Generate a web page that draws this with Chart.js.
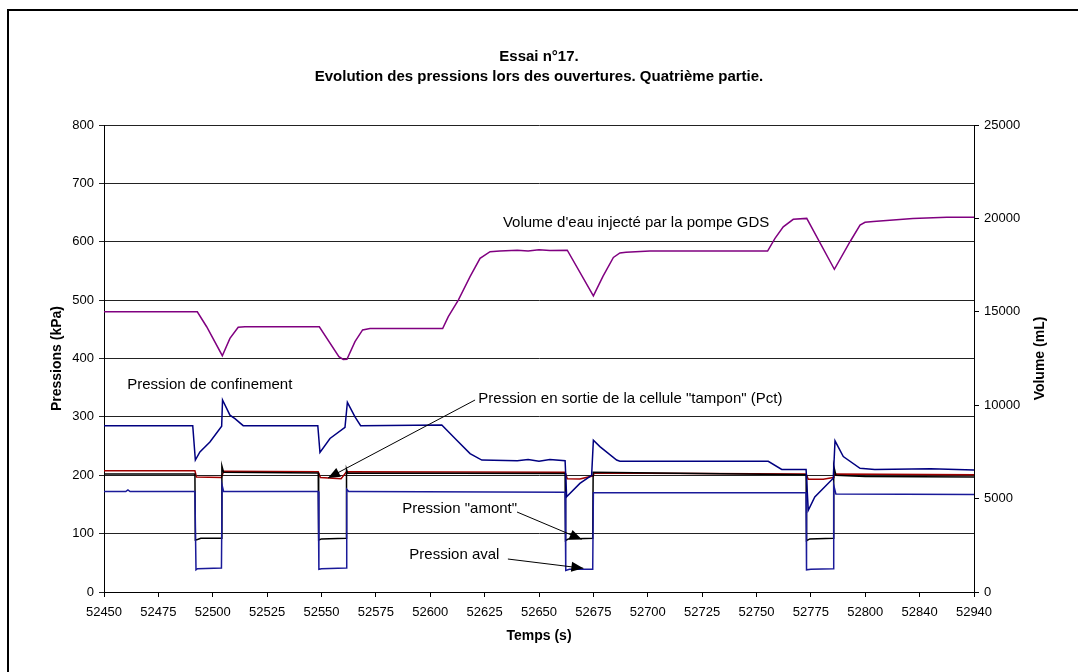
<!DOCTYPE html>
<html>
<head>
<meta charset="utf-8">
<title>Essai n°17</title>
<script src="https://cdn.jsdelivr.net/npm/chart.js@4.4.1/dist/chart.umd.min.js"></script>
<style>
  body { margin: 0; background: #fff; }
</style>
</head>
<body>
<canvas id="essaiChart" width="1078" height="672"></canvas>
<script>
// axis labels (Excel category axis, last two steps are not 25 s)
const xTickLabels = ['52450', '52475', '52500', '52525', '52550', '52575', '52600', '52625', '52650',
  '52675', '52700', '52725', '52750', '52775', '52800', '52840', '52940'];

// Volume d'eau injecte (mL), right axis
const volTime = [52450, 52492.9, 52497.2, 52504.4, 52507.9, 52511.7, 52514.8, 52530, 52549.0, 52558.0,
  52560.0, 52561.7, 52565.4, 52568.9, 52572.3, 52605.7, 52608.3, 52612.9, 52618.3, 52622.9, 52627.5,
  52632, 52640, 52645, 52650, 52655, 52663.0, 52675.0, 52679.4, 52684.2, 52687.2, 52690, 52701,
  52755.1, 52758.5, 52762.3, 52766.9, 52773.1, 52785.8, 52793, 52797.6, 52799.9, 52806, 52835, 52890, 52940];
const volValues = [15000, 15000, 14200, 12650, 13580, 14170, 14200, 14200, 14200, 12600,
  12450, 12460, 13400, 14030, 14100, 14100, 14740, 15630, 16880, 17860, 18220,
  18250, 18300, 18250, 18320, 18280, 18300, 15850, 16900, 17910, 18150, 18185, 18250,
  18250, 18930, 19550, 19950, 20000, 17275, 18750, 19640, 19790, 19830, 20000, 20060, 20060];

// Pression de confinement (kPa)
const confTime = [52450, 52490.8, 52492.0, 52494.1, 52498.7, 52504.1, 52504.5, 52507.9, 52510.2, 52514,
  52548.3, 52549.3, 52553.9, 52560.8, 52561.9, 52565.4, 52568, 52605.3, 52612.2, 52618.3, 52623.7,
  52640, 52645, 52650, 52655, 52662, 52662.7, 52668.8, 52674.2, 52675, 52678, 52685.7, 52687.2,
  52755.4, 52761.6, 52772.8, 52773.8, 52776.8, 52785.3, 52786.1, 52789.9, 52797.6, 52807, 52860, 52940];
const confValues = [285, 285, 226, 240, 257, 284, 329, 303, 297, 285,
  285, 239, 263, 282, 325, 300, 285, 286, 260, 237, 226,
  225, 227, 224, 227, 225, 163, 186, 200, 260, 249, 226, 224,
  224, 210, 210, 140, 163, 195, 259, 232, 212, 210, 211, 209];

// Pression aval (kPa)
const avalTime = [52450, 52460, 52461, 52462, 52491.8, 52492.3, 52493, 52504, 52504.3, 52505, 52506,
  52548.5, 52548.8, 52550, 52561.3, 52561.6, 52562.5, 52563.5, 52662, 52662.3, 52664, 52674.7, 52675,
  52772.8, 52773, 52775, 52785.3, 52785.5, 52786.5, 52940];
const avalValues = [172, 172, 175, 172, 172, 38, 40, 41, 183, 172, 172,
  172, 39, 40, 41, 176, 172, 172, 171, 37, 39, 39, 170,
  170, 38, 39, 40, 183, 168, 167];

// Pression "amont" (kPa)
const amontTime = [52450, 52491.8, 52492.0, 52493, 52494.5, 52504.0, 52504.2, 52505, 52548.5, 52548.7,
  52550, 52561.3, 52561.5, 52562, 52662, 52662.2, 52663.5, 52674.7, 52674.9, 52772.8, 52773,
  52774.5, 52785.3, 52785.5, 52786.5, 52800, 52940];
const amontValues = [202, 202, 89, 90, 92, 92, 216, 205, 204, 89,
  91, 92, 210, 204, 203, 88, 91, 92, 205, 201, 88,
  91, 92, 216, 200, 198, 197];

// Pression en sortie de la cellule "tampon" Pct (kPa)
const pctTime = [52450, 52491.8, 52492.5, 52504, 52505, 52548.5, 52549.5, 52559, 52561.5, 52662,
  52663, 52668.8, 52675, 52675.3, 52772.8, 52773.8, 52780.7, 52785.3, 52785.6, 52940];
const pctValues = [207.5, 207.5, 197, 196, 207, 206, 196, 194, 206, 205,
  194, 193.5, 199, 204, 202, 193, 193, 196, 202, 201];

// text labels, anchored in data units (time, kPa)
const notes = [
  { text: "Volume d'eau injecté par la pompe GDS", t: 52633.4, p: 632.6 },
  { text: 'Pression de confinement', t: 52460.7, p: 354.6 },
  { text: 'Pression en sortie de la cellule "tampon" (Pct)', t: 52622.1, p: 330.6,
    arrow: [52620.6, 328.9, 52553, 195.3] },
  { text: 'Pression "amont"', t: 52587.1, p: 141.7, arrow: [52639.9, 137, 52669.6, 90.3] },
  { text: 'Pression aval', t: 52590.4, p: 63.4, arrow: [52635.7, 56.5, 52670.4, 40.6] }
];

const tickNums = xTickLabels.map(Number);

// time -> position on the category axis (piecewise through the tick labels)
function toPos(t) {
  for (let i = 0; i < tickNums.length - 1; i++) {
    if (t <= tickNums[i + 1]) {
      return i + (t - tickNums[i]) / (tickNums[i + 1] - tickNums[i]);
    }
  }
  return tickNums.length - 1;
}

function pts(times, values) {
  return times.map((t, i) => ({ x: toPos(t), y: values[i] }));
}

const FONT = 'Liberation Sans, Arial, sans-serif';

const decorPlugin = {
  id: 'decor',
  beforeDraw(chart) {
    const ctx = chart.ctx;
    ctx.save();
    ctx.strokeStyle = '#000';
    ctx.lineWidth = 2;
    ctx.beginPath();
    ctx.moveTo(8, 700);
    ctx.lineTo(8, 10);
    ctx.lineTo(1100, 10);
    ctx.stroke();
    ctx.restore();
  },
  afterDraw(chart) {
    const ctx = chart.ctx;
    const xs = chart.scales.x, ys = chart.scales.y;
    const area = chart.chartArea;
    const midX = (area.left + area.right) / 2;
    const midY = (area.top + area.bottom) / 2;
    ctx.save();
    ctx.fillStyle = '#000';
    ctx.textAlign = 'center';
    ctx.textBaseline = 'middle';
    ctx.font = 'bold 15px ' + FONT;
    ctx.fillText('Essai n°17.', midX, 57);
    ctx.fillText('Evolution des pressions lors des ouvertures. Quatrième partie.', midX, 77);

    ctx.font = 'bold 14px ' + FONT;
    ctx.fillText('Temps (s)', midX, 636);
    ctx.save();
    ctx.translate(57, midY);
    ctx.rotate(-Math.PI / 2);
    ctx.fillText('Pressions (kPa)', 0, 0);
    ctx.restore();
    ctx.save();
    ctx.translate(1040, midY);
    ctx.rotate(-Math.PI / 2);
    ctx.fillText('Volume (mL)', 0, 0);
    ctx.restore();

    ctx.font = '15px ' + FONT;
    ctx.textAlign = 'left';
    notes.forEach(n => {
      ctx.fillText(n.text, xs.getPixelForValue(toPos(n.t)), ys.getPixelForValue(n.p));
      if (n.arrow) {
        const x1 = xs.getPixelForValue(toPos(n.arrow[0])), y1 = ys.getPixelForValue(n.arrow[1]);
        const x2 = xs.getPixelForValue(toPos(n.arrow[2])), y2 = ys.getPixelForValue(n.arrow[3]);
        const a = Math.atan2(y2 - y1, x2 - x1);
        ctx.strokeStyle = '#000';
        ctx.lineWidth = 1;
        ctx.beginPath();
        ctx.moveTo(x1, y1);
        ctx.lineTo(x2, y2);
        ctx.stroke();
        ctx.beginPath();
        ctx.moveTo(x2, y2);
        ctx.lineTo(x2 - 12 * Math.cos(a) + 5 * Math.sin(a), y2 - 12 * Math.sin(a) - 5 * Math.cos(a));
        ctx.lineTo(x2 - 12 * Math.cos(a) - 5 * Math.sin(a), y2 - 12 * Math.sin(a) + 5 * Math.cos(a));
        ctx.closePath();
        ctx.fill();
      }
    });
    ctx.restore();
  }
};

const lineDefaults = { fill: false, tension: 0, pointRadius: 0, borderWidth: 1.5 };

new Chart(document.getElementById('essaiChart'), {
  type: 'line',
  data: {
    datasets: [
      { ...lineDefaults, label: 'Volume', data: pts(volTime, volValues), borderColor: '#800080', yAxisID: 'y2' },
      { ...lineDefaults, label: 'Pression de confinement', data: pts(confTime, confValues), borderColor: '#000080', yAxisID: 'y' },
      { ...lineDefaults, label: 'Pression aval', data: pts(avalTime, avalValues), borderColor: '#1a1a99', yAxisID: 'y' },
      { ...lineDefaults, label: 'Pression amont', data: pts(amontTime, amontValues), borderColor: '#000000', yAxisID: 'y' },
      { ...lineDefaults, label: 'Pct', data: pts(pctTime, pctValues), borderColor: '#a00000', yAxisID: 'y' }
    ]
  },
  options: {
    responsive: false,
    animation: false,
    layout: { padding: { top: 125, left: 0, right: 0, bottom: 0 } },
    plugins: { legend: { display: false }, tooltip: { enabled: false } },
    scales: {
      x: {
        type: 'linear',
        min: 0,
        max: xTickLabels.length - 1,
        afterFit: s => { s.height = 80; },
        ticks: {
          stepSize: 1,
          autoSkip: false,
          maxRotation: 0,
          padding: 8,
          color: '#000',
          font: { family: FONT, size: 13 },
          callback: v => xTickLabels[v]
        },
        grid: { drawOnChartArea: false, tickLength: 5, color: '#000' },
        border: { display: true, color: '#000', width: 1 }
      },
      y: {
        position: 'left',
        min: 0,
        max: 800,
        afterFit: s => { s.width = 104; },
        ticks: { stepSize: 100, padding: 5, color: '#000', font: { family: FONT, size: 13 } },
        grid: { color: '#222', tickLength: 5 },
        border: { display: true, color: '#000', width: 1 }
      },
      y2: {
        position: 'right',
        min: 0,
        max: 25000,
        afterFit: s => { s.width = 104; },
        ticks: {
          stepSize: 5000,
          padding: 5,
          color: '#000',
          font: { family: FONT, size: 13 },
          callback: v => String(v)
        },
        grid: { drawOnChartArea: false, tickLength: 5, color: '#000' },
        border: { display: true, color: '#000', width: 1 }
      }
    }
  },
  plugins: [decorPlugin]
});
</script>
</body>
</html>
